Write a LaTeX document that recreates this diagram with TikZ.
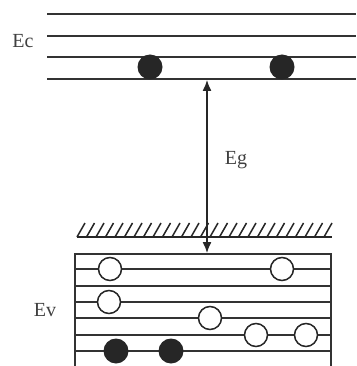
\documentclass[tikz,border=0pt]{standalone}
\usepackage{fontspec}
\setmainfont{Liberation Serif}
\usepackage{tikz}
\usetikzlibrary{arrows.meta}

\begin{document}
\begin{tikzpicture}[x=1pt, y=-1pt, >={Latex[length=11pt,width=9pt]},
    level/.style={draw=black!80, line width=2.2pt},
    band/.style={draw=black!80, line width=1.6pt},
    electron/.style={circle, fill=black!85, draw=none, minimum size=25pt, inner sep=0pt},
    hole/.style={circle, draw=black!85, line width=1.5pt, fill=white, minimum size=23pt, inner sep=0pt},
    lbl/.style={font=\fontsize{20}{22}\selectfont, text=black!75}]
    \useasboundingbox (0,0) rectangle (356,366);
    % conduction band levels
    \foreach \y in {14,36,57,79}
        \draw[level] (47,\y) -- (356,\y);
    \node (ec) [lbl] at (23,41) {Ec};
    \node (e1) [electron] at (150,67) {};
    \node (e2) [electron] at (282,67) {};
    % gap
    \coordinate (cbot) at (207,80);
    \coordinate (vtop) at (207,253);
    \draw[<->, line width=1.3pt, black!85] (cbot) -- (vtop);
    \node (eg) [lbl] at (236,160) {Eg};
    % hatched surface
    \draw[line width=1.5pt, black!85] (77,237) -- (332,237);
    \foreach \x in {77,86.5,...,325}
        \draw[line width=1.5pt, black!85] (\x,237) -- ++(8,-14);
    % valence band box
    \draw[band] (75,366) -- (75,254) -- (331,254) -- (331,366);
    \foreach \y in {269,286,302,318,335,351}
        \draw[band] (75,\y) -- (331,\y);
    \node (ev) [lbl] at (45,310) {Ev};
    \node (h1) [hole] at (110,269) {};
    \node (h2) [hole] at (282,269) {};
    \node (h3) [hole] at (109,302) {};
    \node (h4) [hole] at (210,318) {};
    \node (h5) [hole] at (256,335) {};
    \node (h6) [hole] at (306,335) {};
    \node (e3) [electron] at (116,351) {};
    \node (e4) [electron] at (171,351) {};
\end{tikzpicture}
\end{document}
